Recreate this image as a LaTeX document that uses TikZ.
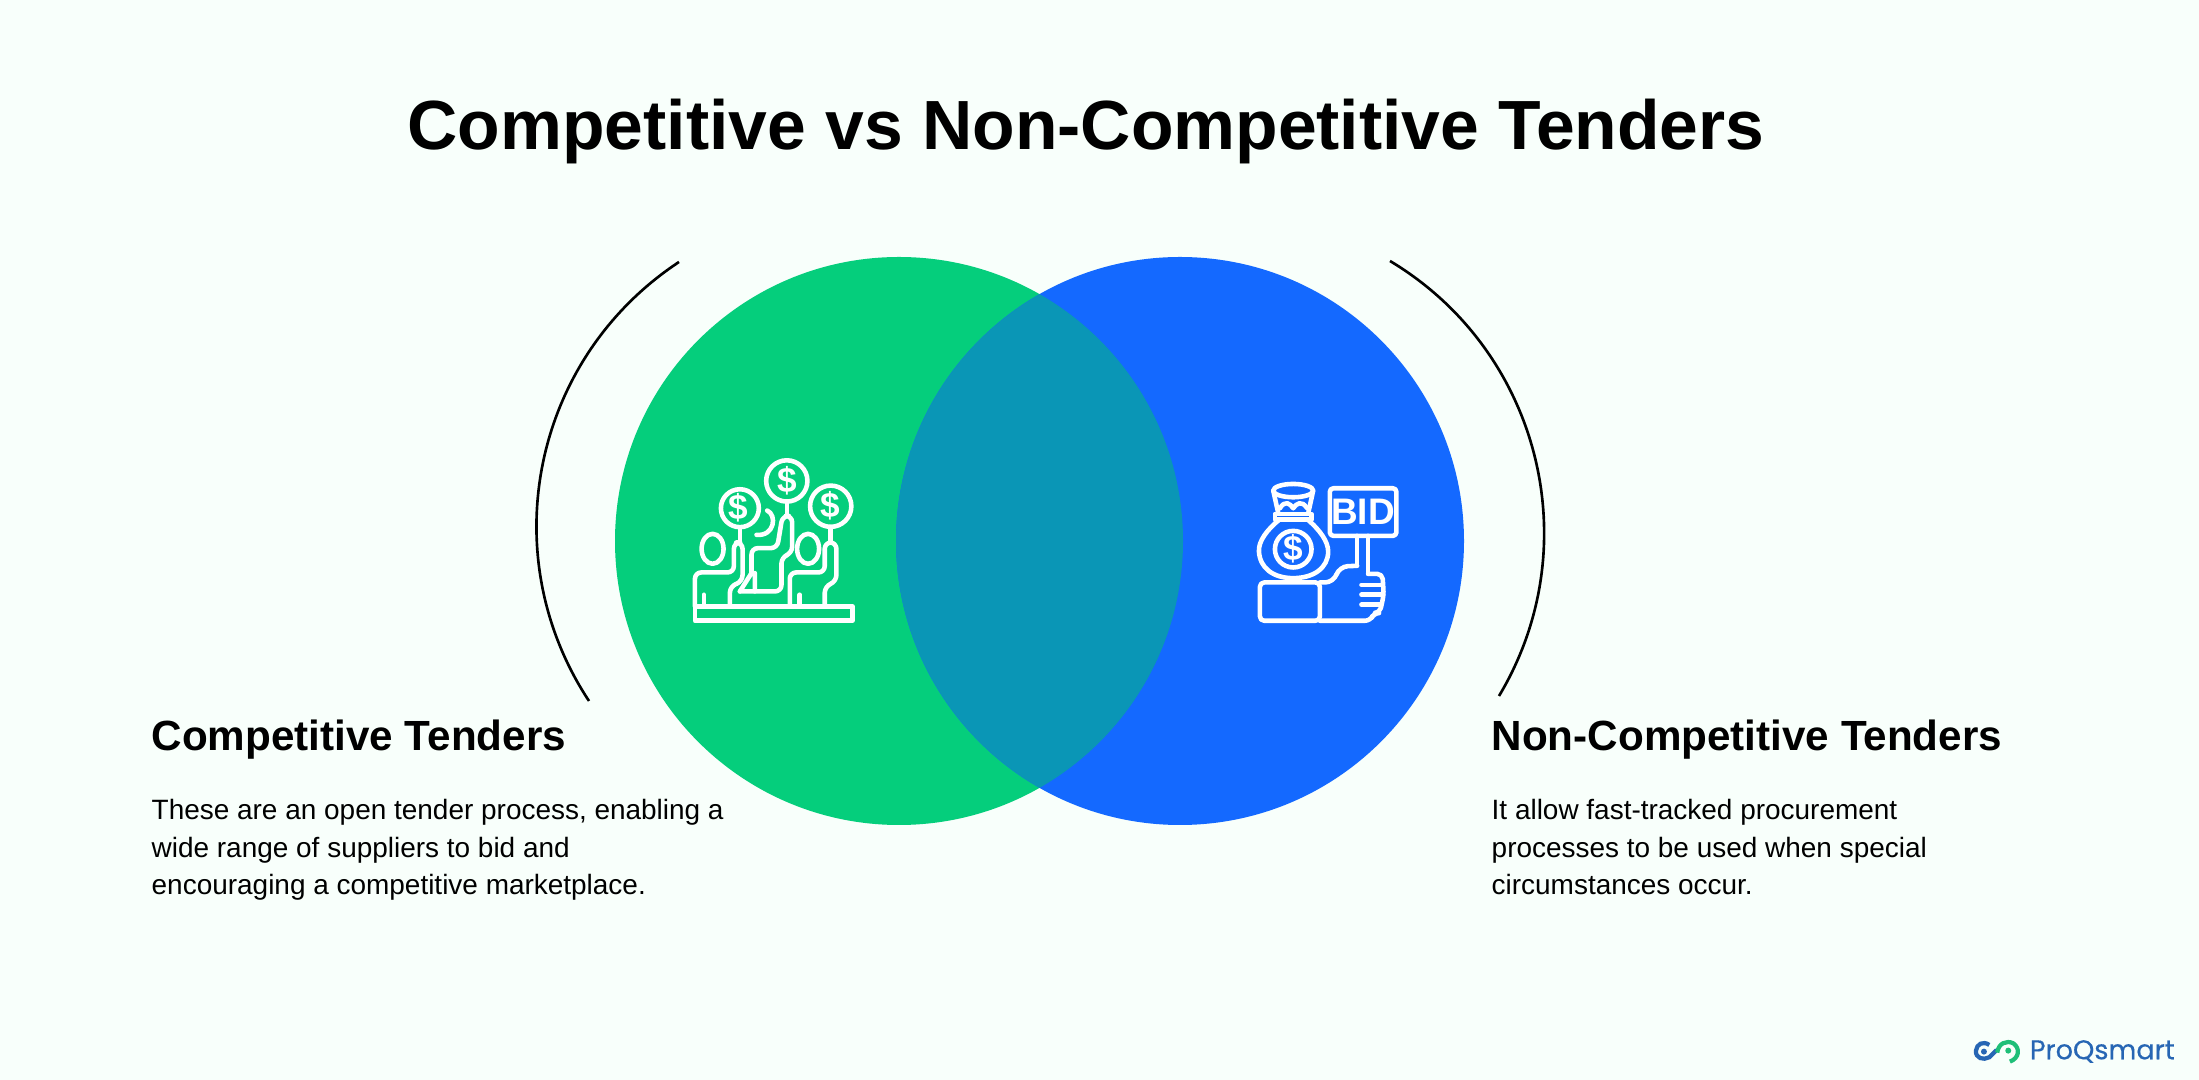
\documentclass[tikz,border=0pt]{standalone}
\usepackage{fontspec}
\setmainfont{Liberation Sans}
\newfontfamily\logofont[FakeBold=0.4]{Poppins}
\definecolor{paper}{HTML}{F8FFFB}
\definecolor{tendergreen}{HTML}{05CE7C}
\definecolor{tenderblue}{HTML}{1469FF}
\definecolor{overlapteal}{HTML}{0A96B6}
\definecolor{logoblue}{HTML}{2766B4}
\definecolor{logogreen}{HTML}{1FBF78}
\tikzstyle{titletext} = [anchor=base west, inner sep=0pt, font={\bfseries\fontsize{19.8}{24}\selectfont}]
\tikzstyle{headtext} = [anchor=base west, inner sep=0pt, font={\bfseries\fontsize{12}{14}\selectfont}]
\tikzstyle{bodytext} = [anchor=north west, inner sep=0pt, align=left, font={\fontsize{7.95}{10.6}\selectfont}]
\tikzstyle{bracket} = [draw=black, line width=0.75pt]
\tikzstyle{iconline} = [draw=white, line width=1.3pt, line join=round, line cap=round]
\tikzstyle{signtext} = [text=white, inner sep=0pt, font={\bfseries\fontsize{10}{10}\selectfont}]
\begin{document}
\begin{tikzpicture}[x=0.01cm,y=-0.01cm]
        \useasboundingbox (0,0) rectangle (2199,1080);
        \fill[paper] (0,0) rectangle (2199,1080);
        % circles
        \fill[tendergreen] (899,541) circle (284);
        \fill[tenderblue] (1180,541) circle (284);
        \begin{scope}
          \clip (899,541) circle (284);
          \fill[overlapteal] (1180,541) circle (284);
        \end{scope}
        % brackets
        \coordinate (ltop) at (679,262);
        \coordinate (lbot) at (589,701);
        \coordinate (rtop) at (1390,261);
        \coordinate (rbot) at (1499,696);
        \draw[bracket] (ltop) to[bend right=45] (lbot);
        \draw[bracket] (rtop) to[bend left=45] (rbot);
        % texts
        \node[titletext] (title) at (407,150) {Competitive vs Non-Competitive Tenders};
        \node[headtext] (lhead) at (151,751) {Competitive Tenders};
        \node[headtext] (rhead) at (1491,751) {Non-Competitive Tenders};
        \node[bodytext] (lbody) at (151,799) {These are an open tender process, enabling a\\wide range of suppliers to bid and\\encouraging a competitive marketplace.};
        \node[bodytext] (rbody) at (1491,799) {It allow fast-tracked procurement\\processes to be used when special\\circumstances occur.};
        % bidders icon
        \begin{scope}[shift={(660,440)},x=0.00333cm,y=-0.00333cm]
          \draw[iconline] (105,500) rectangle (578,543);
          \draw[iconline] (240,205) circle (57);
          \draw[iconline] (381,123) circle (62);
          \draw[iconline] (513,199) circle (62);
          \node[signtext] (coina) at (236,205) {\$};
          \node[signtext] (coinb) at (381,123) {\$};
          \node[signtext] (coinc) at (513,199) {\$};
          \draw[iconline] (158,327) ellipse (33 and 45);
          \draw[iconline] (445,327) ellipse (33 and 45);
          \draw[iconline,rounded corners=1.8pt] (105,500) -- (105,398) -- (222,398) -- (222,308) -- (248,308) -- (248,425) -- (210,440) -- (210,500);
          \draw[iconline,rounded corners=1.8pt] (390,500) -- (390,398) -- (495,398) -- (495,308) -- (530,308) -- (530,425) -- (495,440) -- (495,500);
          \draw[iconline] (132,465) -- (132,500) (420,465) -- (420,500);
          \draw[iconline] (240,262) -- (240,308) (381,185) -- (381,228) (513,261) -- (513,308);
          \draw[iconline,rounded corners=1.8pt] (240,455) -- (365,455) -- (365,352) -- (397,340) -- (397,228) -- (368,228) -- (352,325) -- (275,325) -- (275,400);
          \draw[iconline] (285,400) -- (285,455) (275,400) -- (240,455);
          \draw[iconline] (322,212) .. controls (352,225) and (345,290) .. (290,285);
        \end{scope}
        % bid icon
        \begin{scope}[shift={(1230,460)},x=0.00333cm,y=-0.00333cm]
          \draw[iconline,rounded corners=1pt] (300,85) rectangle (500,228);
          \node[signtext,font={\bfseries\fontsize{10.5}{10.5}\selectfont}] (bid) at (400,157) {BID};
          \draw[iconline] (382,228) -- (382,315) (415,228) -- (415,342);
          \draw[iconline,rounded corners=1.2pt] (270,368) -- (90,368) -- (90,483) -- (270,483) -- cycle;
          \draw[iconline,rounded corners=1.5pt] (270,483) -- (422,483) -- (432,460) -- (450,460) -- (462,405) -- (458,342) -- (415,342);
          \draw[iconline,rounded corners=2.5pt] (270,368) -- (312,368) -- (328,320) -- (382,318);
          \draw[iconline] (395,375) -- (458,375) (395,405) -- (460,405) (395,435) -- (452,435);
          \draw[iconline] (190,92) ellipse (60 and 20);
          \draw[iconline] (130,92) -- (145,160) (250,92) -- (235,160);
          \draw[iconline] (135,162) rectangle (245,178);
          \draw[iconline] (150,145) .. controls (165,120) and (180,130) .. (190,145) .. controls (200,130) and (215,120) .. (232,145);
          \draw[iconline] (150,178) .. controls (110,210) and (85,245) .. (87,275) .. controls (90,325) and (130,355) .. (190,355) .. controls (250,355) and (295,325) .. (295,275) .. controls (295,245) and (270,210) .. (232,178);
          \draw[iconline] (190,268) circle (55);
          \node[signtext] (coind) at (190,268) {\$};
        \end{scope}
        % logo
        \begin{scope}[shift={(1950,1020)},x=0.00333cm,y=-0.00333cm]
          \draw[logoblue,line width=1.2pt] (118,75) .. controls (100,62) and (80,72) .. (78,92) .. controls (76,115) and (100,122) .. (118,112) -- (140,90);
          \fill[logoblue] (102,95) circle (9);
          \draw[logogreen,line width=1.2pt] (142,98) .. controls (145,70) and (170,60) .. (190,70) .. controls (212,85) and (208,115) .. (180,125);
          \fill[logogreen] (175,92) circle (9);
          \node[anchor=base west, inner sep=0pt, text=logoblue, font={\logofont\fontsize{7.7}{9}\selectfont}] (logo) at (238,118) {ProQsmart};
        \end{scope}
\end{tikzpicture}
\end{document}
